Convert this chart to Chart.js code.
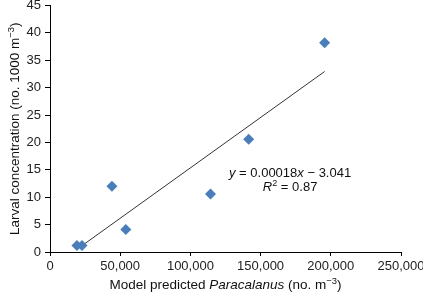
<!DOCTYPE html>
<html>
<head>
<meta charset="utf-8">
<script src="https://cdn.jsdelivr.net/npm/chart.js@4"></script>
<style>
  html, body { margin: 0; padding: 0; background: #fff; }
  #wrap { width: 423px; height: 297px; }
</style>
</head>
<body>
<div id="wrap"><canvas id="chart" width="423" height="297"></canvas></div>
<script>
// model predicted Paracalanus (no. m-3) vs larval concentration (no. 1000 m-3)
const predicted = [19200, 22800, 44100, 54000, 114300, 141500, 195600];
const larval = [1.2, 1.2, 12.0, 4.1, 10.6, 20.6, 38.2];

// linear fit shown on the chart
const trendSlope = 0.000184;
const trendIntercept = -3.041;
const equationText = "0.00018";
const interceptText = "3.041";
const r2Text = "0.87";

const xTicks = [0, 50000, 100000, 150000, 200000, 250000];
const yTicks = [0, 5, 10, 15, 20, 25, 30, 35, 40, 45];

const FONT = "'Liberation Sans', Arial, Helvetica, sans-serif";

const xMin = Math.min(...predicted);
const xMax = Math.max(...predicted);
const trendPoints = [xMin, xMax].map(x => ({ x: x, y: trendSlope * x + trendIntercept }));

// draws a run of text pieces (italic / superscript) starting at x
function drawRuns(ctx, runs, x, y, size, align) {
  const fontFor = r => (r.i ? "italic " : "") + (r.sup ? size * 0.7 : size) + "px " + FONT;
  let total = 0;
  runs.forEach(r => { ctx.font = fontFor(r); total += ctx.measureText(r.t).width; });
  let cx = align === "center" ? x - total / 2 : x;
  ctx.textAlign = "left";
  ctx.textBaseline = "alphabetic";
  runs.forEach(r => {
    ctx.font = fontFor(r);
    ctx.fillText(r.t, cx, r.sup ? y - size * 0.4 : y);
    cx += ctx.measureText(r.t).width;
  });
}

const textPlugin = {
  id: "texts",
  afterDraw(chart) {
    const ctx = chart.ctx;
    const a = chart.chartArea;
    ctx.save();
    ctx.fillStyle = "#111";
    // x axis title
    drawRuns(ctx, [
      { t: "Model predicted " },
      { t: "Paracalanus", i: true },
      { t: " (no. m" },
      { t: "\u22123", sup: true },
      { t: ")" }
    ], (a.left + a.right) / 2, 289, 13.5, "center");
    // y axis title
    ctx.save();
    ctx.translate(19, (a.top + a.bottom) / 2);
    ctx.rotate(-Math.PI / 2);
    drawRuns(ctx, [
      { t: "Larval concentration (no. 1000 m" },
      { t: "\u22123", sup: true },
      { t: ")" }
    ], 0, 0, 13.5, "center");
    ctx.restore();
    // regression equation
    const ex = a.left + (a.right - a.left) * 0.684;
    drawRuns(ctx, [
      { t: "y", i: true },
      { t: " = " + equationText },
      { t: "x", i: true },
      { t: " \u2212 " + interceptText }
    ], ex, 177, 13, "center");
    drawRuns(ctx, [
      { t: "R", i: true },
      { t: "2", sup: true },
      { t: " = " + r2Text }
    ], ex, 191, 13, "center");
    ctx.restore();
  }
};

new Chart(document.getElementById("chart").getContext("2d"), {
  type: "scatter",
  data: {
    datasets: [
      {
        label: "obs",
        data: predicted.map((x, i) => ({ x: x, y: larval[i] })),
        pointStyle: "rectRot",
        pointRadius: 5.5,
        backgroundColor: "#4a7ebb",
        borderColor: "#4a7ebb",
        borderWidth: 0
      },
      {
        type: "line",
        label: "fit",
        data: trendPoints,
        borderColor: "#333",
        borderWidth: 1,
        pointRadius: 0,
        fill: false
      }
    ]
  },
  plugins: [textPlugin],
  options: {
    responsive: false,
    animation: false,
    layout: { padding: { left: 0, right: 22, top: 5, bottom: 0 } },
    plugins: { legend: { display: false }, tooltip: { enabled: false } },
    scales: {
      x: {
        type: "linear",
        min: 0,
        max: 250000,
        afterBuildTicks: s => { s.ticks = xTicks.map(v => ({ value: v })); },
        afterFit: s => { s.height = 45; s.paddingLeft = 0; s.paddingRight = 0; },
        ticks: {
          color: "#222",
          font: { family: FONT, size: 13 },
          padding: 3,
          maxRotation: 0,
          callback: v => v.toLocaleString("en-US")
        },
        grid: { drawOnChartArea: false, tickLength: 4, color: "#000" },
        border: { color: "#000", width: 1 }
      },
      y: {
        min: 0,
        max: 45,
        afterBuildTicks: s => { s.ticks = yTicks.map(v => ({ value: v })); },
        afterFit: s => { s.width = 50; s.paddingTop = 0; s.paddingBottom = 0; },
        ticks: {
          color: "#222",
          font: { family: FONT, size: 13 },
          padding: 4
        },
        grid: { drawOnChartArea: false, tickLength: 5, color: "#000" },
        border: { color: "#000", width: 1 }
      }
    }
  }
});
</script>
</body>
</html>
